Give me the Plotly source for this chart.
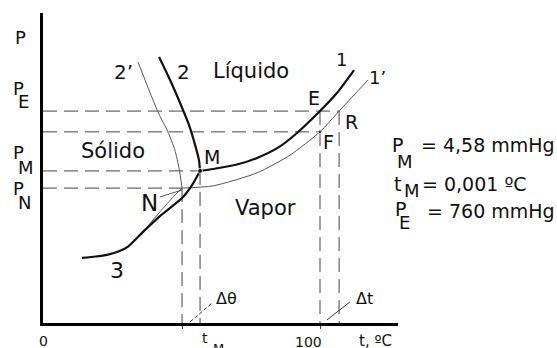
import plotly.graph_objects as go

# Schematic phase diagram of water: temperature t (axis units) vs pressure P (axis units)
T_MAX, P_MAX = 128.16, 111.91

# Characteristic points
t_E, p_E = 100.0, 76.5     # normal boiling point (pure liquid)
t_F, p_F = 100.0, 69.0     # solution vapour pressure at 100
t_R, p_R = 106.9, 76.5     # solution boiling point at P_E
t_M, p_M = 56.7, 54.9      # triple point (pure water)
t_N, p_N = 50.2, 48.7      # triple point (solution)

# Curve 1: vaporisation, pure water
curve1_t = [56.7, 61.4, 70.0, 77.3, 85.0, 91.7, 100.0, 106.1, 112.3]
curve1_p = [54.9, 55.6, 57.2, 59.6, 63.4, 68.6, 76.5, 83.0, 91.3]
# Curve 1': vaporisation, solution
curve1s_t = [50.2, 61.4, 77.3, 89.2, 100.0, 106.9, 117.3]
curve1s_p = [48.7, 49.5, 54.2, 60.6, 69.0, 76.5, 87.7]
# Curve 2: fusion, pure water
curve2_t = [41.9, 46.2, 49.8, 52.7, 54.9, 56.3, 56.7]
curve2_p = [96.0, 87.0, 78.7, 71.5, 64.3, 58.8, 54.9]
# Curve 2': fusion, solution
curve2s_t = [34.3, 41.5, 45.1, 47.6, 49.2, 50.2]
curve2s_p = [94.2, 76.2, 69.0, 62.5, 55.5, 48.7]
# Curve 3: sublimation
curve3_t = [14.1, 19.0, 23.1, 27.2, 30.7, 36.1, 42.2, 50.2, 53.8, 56.7]
curve3_p = [23.5, 24.0, 24.6, 25.8, 27.6, 32.9, 38.6, 45.1, 49.8, 54.9]
# Sublimation branch up to N
curve3s_t = [36.1, 42.2, 47.3, 50.2]
curve3s_p = [32.9, 40.1, 45.8, 48.7]

# Pointer lines for the temperature differences and for label N
dtheta_t, dtheta_p = [53.1, 61.0], [0.4, 7.2]
dt_t, dt_p = [102.5, 110.8], [1.1, 7.6]
ptrN_t, ptrN_p = [42.2, 50.2], [45.5, 48.0]

FONT = "DejaVu Sans"
INK = "#111111"
GUIDE = "#444444"
DASH = "14px,7px"

fig = go.Figure()


def line(x, y, width, color, dash="solid", shape="linear"):
    fig.add_trace(go.Scatter(
        x=x, y=y, mode="lines", hoverinfo="skip", showlegend=False,
        line=dict(width=width, color=color, dash=dash, shape=shape, smoothing=0.6)))


# dashed guide lines
line([0, t_R], [p_E, p_R], 1, GUIDE, DASH)
line([0, t_F], [p_F, p_F], 1, GUIDE, DASH)
line([0, t_M], [p_M, p_M], 1, GUIDE, DASH)
line([0, t_N], [p_N, p_N], 1, GUIDE, DASH)
line([t_E, t_E], [p_E, 0], 1, GUIDE, DASH)
line([t_R, t_R], [p_R, 0], 1, GUIDE, DASH)
line([t_M, t_M], [p_M, 0], 1, GUIDE, DASH)
line([t_N, t_N], [p_N, 0], 1, GUIDE, DASH)

# thin curves (solution)
line(curve1s_t, curve1s_p, 1, "#555555", shape="spline")
line(curve2s_t, curve2s_p, 1, "#555555", shape="spline")
line(curve3s_t, curve3s_p, 1, "#555555", shape="spline")

# thick curves (pure water)
line(curve1_t, curve1_p, 2.2, INK, shape="spline")
line(curve2_t, curve2_p, 2.2, INK, shape="spline")
line(curve3_t, curve3_p, 2.2, INK, shape="spline")

# pointers
line(dtheta_t, dtheta_p, 1, "#333333", "4px,2px")
line(dt_t, dt_p, 1, "#333333")
line(ptrN_t, ptrN_p, 1, "#555555")

# points M and F
fig.add_trace(go.Scatter(x=[t_M, t_F], y=[p_M, p_F], mode="markers",
                         hoverinfo="skip", showlegend=False,
                         marker=dict(size=[5, 4], color=INK)))


def label(text, x, y, size, xanchor="center", yanchor="middle"):
    # positions given in axis units, placed on the paper so labels outside the
    # plotting range stay visible
    fig.add_annotation(x=x / T_MAX, y=y / P_MAX, xref="paper", yref="paper",
                       text=text, showarrow=False,
                       xanchor=xanchor, yanchor=yanchor,
                       font=dict(family=FONT, size=size, color=INK))


# pressure axis labels (subscript drawn as a second, lowered letter)
label("P", -8.3, 103.2, 18)
for sub, yp, ys in [("E", 84.7, 79.9), ("M", 61.4, 56.1), ("N", 48.6, 43.5)]:
    label("P", -9.0, yp, 18)
    label(sub, -9.7, ys, 18, xanchor="left")

# temperature axis labels
label("0", 0.0, -6.5, 14)
label("t", 58.5, -5.4, 14)
label("M", 60.5, -5.6, 13, xanchor="left", yanchor="top")
label("100", 96.0, -6.9, 14)
label("t, ºC", 119.9, -6.5, 15)

# curve and region labels
label("2’", 29.2, 90.6, 20)
label("2", 50.9, 90.6, 20)
label("Líquido", 75.1, 91.0, 21)
label("1", 107.9, 95.3, 18)
label("1’", 120.6, 88.8, 18)
label("E", 97.8, 81.2, 19)
label("R", 111.2, 72.6, 19)
label("F", 102.9, 65.3, 19)
label("M", 61.0, 59.9, 19)
label("N", 38.6, 43.4, 23)
label("Sólido", 25.3, 62.1, 21)
label("Vapor", 80.5, 41.5, 21)
label("3", 26.7, 18.8, 22)
label("Δθ", 66.1, 8.7, 16)
label("Δt", 115.9, 9.0, 16)

# constants
label("P", 127.8, 64.3, 19)
label("M", 127.2, 58.3, 18, xanchor="left")
label("= 4,58 mmHg", 135.7, 64.3, 19, xanchor="left")
label("t", 127.8, 50.3, 19)
label("M", 129.5, 48.0, 18, xanchor="left")
label("= 0,001 ºC", 136.1, 50.3, 19, xanchor="left")
label("P", 129.1, 41.0, 19)
label("E", 127.8, 36.2, 18, xanchor="left")
label("= 760 mmHg", 137.9, 40.4, 19, xanchor="left")

axis_common = dict(showgrid=False, zeroline=False, showline=True, linewidth=3,
                   linecolor="black", showticklabels=False, fixedrange=True)
fig.update_xaxes(range=[0, T_MAX], tickvals=[t_N, t_E], ticks="outside",
                 ticklen=3, tickwidth=1, tickcolor=GUIDE, **axis_common)
fig.update_yaxes(range=[0, P_MAX], ticks="", **axis_common)

fig.update_layout(width=557, height=348, margin=dict(l=43, r=159, t=13, b=25),
                  paper_bgcolor="white", plot_bgcolor="white",
                  font=dict(family=FONT, color=INK))

fig.write_html("out.html", config={"displayModeBar": False})
